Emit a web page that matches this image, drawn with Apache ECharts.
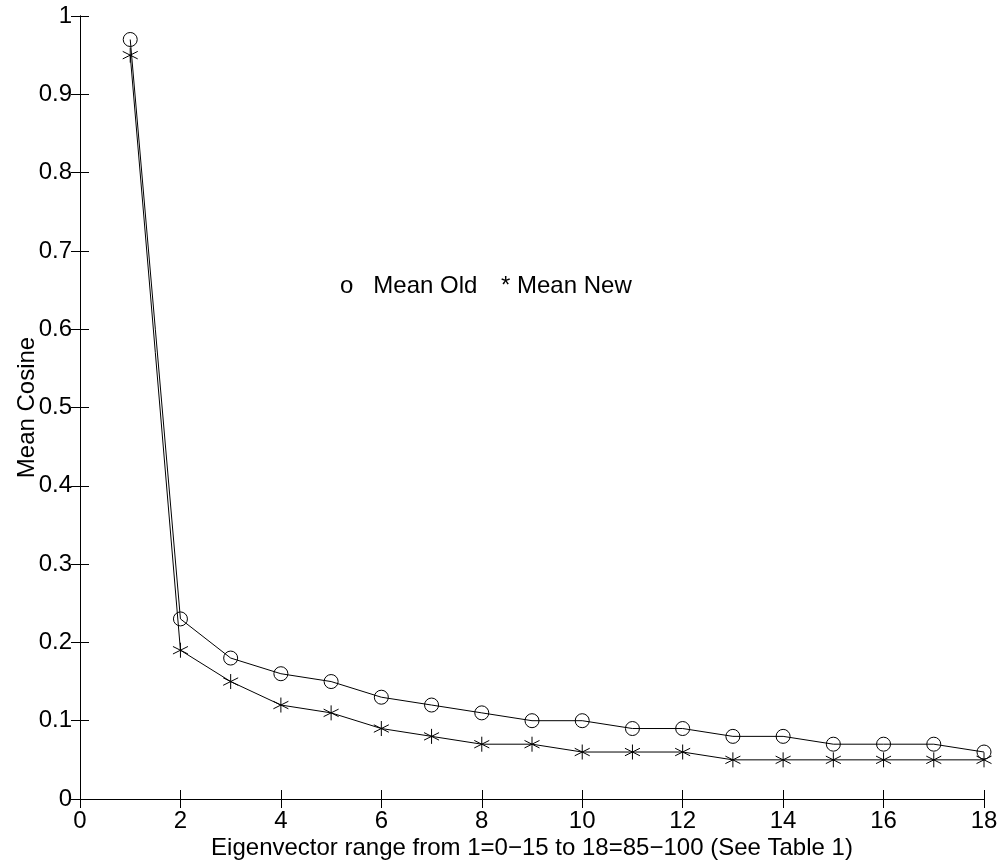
<!DOCTYPE html>
<html>
<head>
<meta charset="utf-8">
<script src="https://cdn.jsdelivr.net/npm/echarts@6/dist/echarts.min.js"></script>
<style>
  html, body { margin: 0; padding: 0; background: #fff; }
  #chart { width: 999px; height: 867px; }
</style>
</head>
<body>
<div id="chart"></div>
<script>
"use strict";

var ranges = [1, 2, 3, 4, 5, 6, 7, 8, 9, 10, 11, 12, 13, 14, 15, 16, 17, 18];
var meanOld = [0.97, 0.23, 0.18, 0.16, 0.15, 0.13, 0.12, 0.11, 0.10, 0.10, 0.09, 0.09, 0.08, 0.08, 0.07, 0.07, 0.07, 0.06];
var meanNew = [0.95, 0.19, 0.15, 0.12, 0.11, 0.09, 0.08, 0.07, 0.07, 0.06, 0.06, 0.06, 0.05, 0.05, 0.05, 0.05, 0.05, 0.05];

var font = "'Liberation Sans', Arial, sans-serif";
var star = "path://M7,0L7,14M1,3.5L13,10.5M1,10.5L13,3.5";

function pairs(xs, ys) {
  return xs.map(function (x, i) { return [x, ys[i]]; });
}

var chart = echarts.init(document.getElementById("chart"));

var tickStyle = { show: true, inside: true, length: 9, lineStyle: { color: "#000", width: 1 } };
var lineAxis = { show: true, lineStyle: { color: "#000", width: 1 } };

chart.setOption({
  animation: false,
  backgroundColor: "#fff",
  grid: { left: 80, top: 16, width: 904, height: 783, outerBoundsMode: "none", containLabel: false },
  xAxis: [
    {
      type: "value",
      min: 0,
      max: 18,
      interval: 2,
      axisLine: lineAxis,
      axisTick: tickStyle,
      splitLine: { show: false },
      axisLabel: { color: "#000", fontSize: 24, fontFamily: font, margin: 10 },
      name: "Eigenvector range from 1=0\u221215 to 18=85\u2212100 (See Table 1)",
      nameLocation: "middle",
      nameGap: 37,
      nameMoveOverlap: false,
      nameTextStyle: { color: "#000", fontSize: 24, fontFamily: font },
    },
    {
      type: "value",
      position: "top",
      min: 0,
      max: 18,
      interval: 2,
      axisLine: lineAxis,
      axisTick: tickStyle,
      splitLine: { show: false },
      axisLabel: { show: false },
    },
  ],
  yAxis: [
    {
      type: "value",
      min: 0,
      max: 1,
      interval: 0.1,
      axisLine: lineAxis,
      axisTick: tickStyle,
      splitLine: { show: false },
      axisLabel: {
        color: "#000",
        fontSize: 24,
        fontFamily: font,
        margin: 8,
        formatter: function (v) { return String(Math.round(v * 10) / 10); },
      },
      name: "Mean Cosine",
      nameLocation: "middle",
      nameGap: 41,
      nameMoveOverlap: false,
      nameTextStyle: { color: "#000", fontSize: 24, fontFamily: font },
    },
    {
      type: "value",
      position: "right",
      min: 0,
      max: 1,
      interval: 0.1,
      axisLine: lineAxis,
      axisTick: tickStyle,
      splitLine: { show: false },
      axisLabel: { show: false },
    },
  ],
  graphic: [
    {
      type: "text",
      left: 340,
      top: 274,
      style: { text: "o   Mean Old", fill: "#000", font: "24px " + font },
    },
    {
      type: "text",
      left: 501,
      top: 274,
      style: { text: "* Mean New", fill: "#000", font: "24px " + font },
    },
  ],
  series: [
    {
      name: "Mean Old",
      type: "line",
      data: pairs(ranges, meanOld),
      symbol: "circle",
      symbolSize: 14,
      itemStyle: { color: "none", borderColor: "#000", borderWidth: 1 },
      lineStyle: { color: "#000", width: 1 },
    },
    {
      name: "Mean New",
      type: "line",
      data: pairs(ranges, meanNew),
      symbol: star,
      symbolSize: 15,
      itemStyle: { color: "none", borderColor: "#000", borderWidth: 1 },
      lineStyle: { color: "#000", width: 1 },
    },
  ],
});
</script>
</body>
</html>
